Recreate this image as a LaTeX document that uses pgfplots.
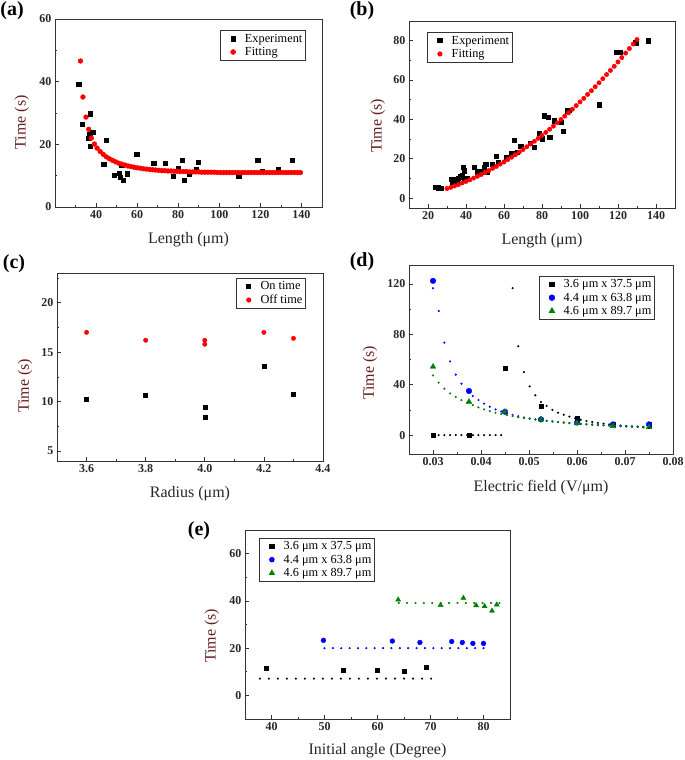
\documentclass[border=0pt]{standalone}
\usepackage{fontspec}
\setmainfont{Liberation Serif}
\usepackage{pgfplots}
\pgfplotsset{compat=1.18}

\definecolor{tlab}{RGB}{105,30,30}
\definecolor{fitred}{RGB}{255,0,0}
\definecolor{dblue}{RGB}{0,0,255}
\definecolor{dgreen}{RGB}{0,128,0}

\pgfplotsset{
  panel/.style={
    scale only axis,
    anchor=south west,
    axis line style={black!80, line width=0.9pt},
    tick style={black!80, line width=0.7pt},
    major tick length=4pt, minor tick length=2.2pt,
    xtick pos=bottom, ytick pos=left,
    tick align=inside,
    ticklabel style={font=\bfseries\fontsize{12}{14}\selectfont, text=black!85},
    /pgf/number format/assume math mode=true,
    xlabel style={font=\fontsize{16}{19}\selectfont, text=black!85,
      at={(axis description cs:0.5,-0.175)}, anchor=center},
    ylabel style={font=\fontsize{16}{19}\selectfont, text=tlab, anchor=center},
    legend style={draw=black!80, line width=0.7pt,
      font=\fontsize{12.3}{14}\selectfont, inner sep=1.5pt,
      nodes={inner sep=1.8pt}},
    legend image code/.code={
      \path[draw=none] (0pt,0pt) -- (21pt,0pt);
      \draw[#1] plot coordinates {(11pt,0pt)};},
    legend cell align=left,
    only marks,
  },
}
\tikzset{pnl/.style={font=\bfseries\fontsize{20}{22}\selectfont}}

\begin{document}
\begin{tikzpicture}
\useasboundingbox (0,0) rectangle (685pt,-760pt);

% ---------------- (a)
\begin{axis}[panel, at={(55pt,-207pt)}, width=267pt, height=188pt,
  xmin=20, xmax=150, ymin=0, ymax=60,
  xtick={40,60,...,140}, minor xtick={30,50,...,130},
  ytick={0,20,40,60}, minor ytick={10,30,50},
  xlabel={Length (μm)}, ylabel={Time (s)},
  ylabel style={at={(axis description cs:-0.124,0.45)}},
  legend style={at={(axis description cs:0.94,0.94)}, anchor=north east}]
\addplot[mark=square*, mark size=2.1pt, black] coordinates {
(31.5,39.1) (33.2,26.5) (37.2,29.8) (36.3,21.9) (36.9,23.1) (38.4,23.8)
(37.2,19.5) (43.7,13.6) (44.9,21.2) (48.9,10.2) (51.4,10.8) (51.7,9.6)
(52.5,13.4) (53.3,8.6) (55.1,10.6) (59.8,16.9) (68.1,14.1) (73.8,13.9)
(77.4,9.8) (79.8,12.4) (82.1,14.9) (82.9,8.6) (85.2,10.4) (88.9,12.1)
(89.8,14.4) (109.4,9.8) (118.7,14.9) (121,11.4) (128.6,12.1) (135.4,15.0)};
\addlegendentry{Experiment}
\addplot[mark=*, mark size=2.4pt, fitred] coordinates {
(32.4,46.6) (33.6,35.1) (35.1,28.7) (36.4,24.8) (37.7,22.0) (39.2,20.1)
(40.5,18.8) (42,17.7) (43.5,16.8) (45,16.0) (46.5,15.4) (48,14.9)
(49.5,14.4) (51,14.0) (52.5,13.7) (54,13.4) (55.5,13.1) (57,12.9)
(58.5,12.7) (60,12.5) (61.5,12.4) (63,12.2) (64.5,12.1) (66,12.0)
(67.5,11.9) (69,11.8) (70.5,11.7) (72,11.6) (73.5,11.6) (75,11.5)
(76.5,11.5) (78,11.4) (79.5,11.4) (81,11.3) (82.5,11.3) (84,11.3)
(85.5,11.2) (87,11.2) (88.5,11.2) (90,11.2) (91.5,11.1) (93,11.1)
(94.5,11.1) (96,11.1) (97.5,11.1) (99,11.0) (100.5,11.0) (102,11.0)
(103.5,11.0) (105,11.0) (106.5,11.0) (108,11.0) (109.5,11.0) (111,11.0)
(112.5,11.0) (114,11.0) (115.5,11.0) (117,11.0) (118.5,11.0) (120,11.0)
(121.5,11.0) (123,11.0) (124.5,11.0) (126,11.0) (127.5,11.0) (129,11.0)
(130.5,11.0) (132,11.0) (133.5,11.0) (135,11.0) (136.5,11.0) (138,11.0)
(139.5,11.0)};
\addlegendentry{Fitting}
\end{axis}
\node[pnl] at (12pt,-11pt) {(a)};

% ---------------- (b)
\begin{axis}[panel, at={(409pt,-208pt)}, width=266pt, height=187pt,
  xmin=10, xmax=150, ymin=-5, ymax=90,
  xtick={20,40,...,140}, minor xtick={30,50,...,130},
  ytick={0,20,...,80}, minor ytick={10,30,50,70},
  xlabel={Length (μm)}, ylabel={Time (s)},
  ylabel style={at={(axis description cs:-0.117,0.44)}},
  legend style={at={(axis description cs:0.068,0.94)}, anchor=north west}]
\addplot[mark=square*, mark size=2.1pt, black] coordinates {
(24,5.5) (25.5,5.3) (27,5.2) (32.3,9.7) (33,8.4) (34,9.7) (35.1,8.4)
(35.8,10.1) (37.2,10.9) (38.1,11.7) (38.4,15.9) (39,13.9) (39.3,9.2)
(40.7,10.1) (44.2,15.9) (46,13.4) (47.8,13.4) (49.5,15.9) (50.4,17.3)
(51.3,13.4) (53.9,17.3) (56,21.3) (57,18.4) (61.3,20.6) (64.1,22.6)
(65.3,29.4) (67.1,23.5) (68.8,26.5) (73.6,28) (75.9,26) (78.5,33)
(80.3,30.2) (81.1,41.9) (83.2,41.1) (84,31) (86.4,39.4) (89.9,38.6)
(91.3,33.9) (93.4,44.4) (94.3,44.8) (110.1,47.5) (119.1,74.1)
(121.2,74.1) (129.3,79) (136,80)};
\addlegendentry{Experiment}
\addplot[mark=*, mark size=2.2pt, fitred] coordinates {
(30,4.9) (32,5.5) (34,6.2) (36,6.9) (38,7.7) (40,8.5) (42,9.3) (44,10.2)
(46,11.1) (48,12.0) (50,13.0) (52,14.0) (54,15.1) (56,16.1) (58,17.3)
(60,18.4) (62,19.6) (64,20.8) (66,22.1) (68,23.4) (70,24.7) (72,26.1)
(74,27.5) (76,28.9) (78,30.4) (80,31.9) (82,33.4) (84,35.0) (86,36.6)
(88,38.3) (90,40.0) (92,41.7) (94,43.4) (96,45.2) (98,47.0) (100,48.9)
(102,50.7) (104,52.7) (106,54.6) (108,56.6) (110,58.6) (112,60.7)
(114,62.8) (116,64.9) (118,67.0) (120,69.2) (122,71.4) (124,73.7)
(126,76.0) (128,78.3) (130,80.6)};
\addlegendentry{Fitting}
\end{axis}
\node[pnl] at (362pt,-11pt) {(b)};

% ---------------- (c)
\begin{axis}[panel, at={(57pt,-461pt)}, width=266pt, height=188pt,
  xmin=3.5, xmax=4.4, ymin=4, ymax=23,
  xtick={3.6,3.8,4.0,4.2,4.4}, minor xtick={3.7,3.9,4.1,4.3},
  ytick={5,10,15,20}, minor ytick={7.5,12.5,17.5,22.5},
  xticklabel style={/pgf/number format/.cd, fixed, fixed zerofill, precision=1},
  xlabel={Radius (μm)}, ylabel={Time (s)},
  ylabel style={at={(axis description cs:-0.12,0.40)}},
  legend style={at={(axis description cs:0.936,0.973)}, anchor=north east}]
\addplot[mark=square*, mark size=2pt, black] coordinates {
(3.6,10.2) (3.8,10.6) (4.0,9.4) (4.0,8.4) (4.2,13.6) (4.3,10.8)};
\addlegendentry{On time}
\addplot[mark=*, mark size=2.2pt, fitred] coordinates {
(3.6,17.0) (3.8,16.2) (4.0,16.2) (4.0,15.8) (4.2,17.0) (4.3,16.4)};
\addlegendentry{Off time}
\end{axis}
\node[pnl] at (14pt,-264pt) {(c)};

% ---------------- (d)
\begin{axis}[panel, at={(409pt,-454pt)}, width=264pt, height=189pt,
  xmin=0.025, xmax=0.08, ymin=-15, ymax=135,
  xtick={0.03,0.04,...,0.08}, minor xtick={0.035,0.045,...,0.075},
  ytick={0,40,80,120}, minor ytick={20,60,100},
  xticklabel style={/pgf/number format/.cd, fixed, fixed zerofill, precision=2},
  scaled x ticks=false,
  xlabel={Electric field (V/μm)}, ylabel={Time (s)},
  ylabel style={at={(axis description cs:-0.148,0.43)}},
  legend style={at={(axis description cs:0.932,0.942)}, anchor=north east}]
\addplot[mark=square*, mark size=2.3pt, black] coordinates {
(0.03,0) (0.0375,0) (0.045,53) (0.0525,23) (0.06,13.2) (0.0675,8.6) (0.075,8.2)};
\addlegendentry{3.6 μm x 37.5 μm}
\addplot[mark=*, mark size=2.8pt, dblue] coordinates {
(0.03,122.4) (0.0375,35) (0.045,18.5) (0.0525,12.5) (0.06,10) (0.0675,8.5) (0.075,8.5)};
\addlegendentry{4.4 μm x 63.8 μm}
\addplot[mark=triangle*, mark size=3.2pt, dgreen] coordinates {
(0.03,54.3) (0.0375,26.5) (0.045,18.5) (0.0525,12.4) (0.06,9.3) (0.0675,7.2) (0.075,6.4)};
\addlegendentry{4.6 μm x 89.7 μm}
\addplot[forget plot, mark=*, mark size=0.85pt, black] coordinates {
(0.0300,0) (0.03118,0) (0.03237,0) (0.03355,0) (0.03474,0) (0.03592,0)
(0.03711,0) (0.03829,0) (0.03947,0) (0.04066,0) (0.04184,0) (0.04303,0)
(0.04421,0)
(0.04658,116.6) (0.04776,70.5) (0.04895,50) (0.05013,38.7) (0.05132,31.6)
(0.05250,26.3) (0.05368,23.2) (0.05487,20.1) (0.05605,17.8) (0.05724,16.1)
(0.05842,14.7) (0.05961,13.3) (0.06079,12.2) (0.06197,11.2) (0.06316,10.4)
(0.06434,9.7) (0.06553,9.1) (0.06671,8.5) (0.06789,8.0) (0.06908,7.6)
(0.07026,7.2) (0.07145,6.8) (0.07263,6.5) (0.07382,6.2) (0.07500,5.9)};
\addplot[forget plot, mark=*, mark size=0.85pt, dblue] coordinates {
(0.0300,116.6) (0.03118,98.5) (0.03237,73.4) (0.03355,58.5) (0.03474,48)
(0.03592,40.8) (0.03711,35.5) (0.03829,31) (0.03947,27.8) (0.04066,25)
(0.04184,22.5) (0.04303,20.4) (0.04421,18.7) (0.04539,17.2) (0.04658,16)
(0.04776,14.9) (0.04895,14.0) (0.05013,13.2) (0.05132,12.5) (0.05250,11.9)
(0.05368,11.3) (0.05487,10.8) (0.05605,10.3) (0.05724,9.9) (0.05842,9.5)
(0.05961,9.1) (0.06079,8.8) (0.06197,8.5) (0.06316,8.2) (0.06434,7.9)
(0.06553,7.7) (0.06671,7.5) (0.06789,7.2) (0.06908,7.0) (0.07026,6.8)
(0.07145,6.7) (0.07263,6.5) (0.07382,6.3) (0.07500,6.2)};
\addplot[forget plot, mark=*, mark size=0.85pt, dgreen] coordinates {
(0.0300,47.4) (0.03118,41.6) (0.03237,36.8) (0.03355,33.1) (0.03474,30.2)
(0.03592,27.8) (0.03711,25.7) (0.03829,23.8) (0.03947,22.0) (0.04066,20.4)
(0.04184,19.1) (0.04303,17.7) (0.04421,16.7) (0.04539,15.8) (0.04658,15.0)
(0.04776,14.2) (0.04895,13.5) (0.05013,12.9) (0.05132,12.3) (0.05250,11.8)
(0.05368,11.3) (0.05487,10.9) (0.05605,10.5) (0.05724,10.1) (0.05842,9.7)
(0.05961,9.4) (0.06079,9.1) (0.06197,8.8) (0.06316,8.5) (0.06434,8.3)
(0.06553,8.0) (0.06671,7.8) (0.06789,7.6) (0.06908,7.4) (0.07026,7.2)
(0.07145,7.0) (0.07263,6.9) (0.07382,6.7) (0.07500,6.6)};
\end{axis}
\node[pnl] at (362pt,-262pt) {(d)};

% ---------------- (e)
\begin{axis}[panel, at={(245pt,-719pt)}, width=265pt, height=189pt,
  xmin=35, xmax=85, ymin=-10, ymax=70,
  xtick={40,50,...,80}, minor xtick={45,55,65,75},
  ytick={0,20,40,60}, minor ytick={10,30,50},
  xlabel={Initial angle (Degree)}, ylabel={Time (s)},
  xlabel style={at={(axis description cs:0.5,-0.165)}},
  ylabel style={at={(axis description cs:-0.125,0.44)}},
  legend style={at={(axis description cs:0.053,0.958)}, anchor=north west}]
\addplot[mark=square*, mark size=2.1pt, black] coordinates {
(39,11.4) (53.5,10.8) (60,10.5) (65,10.4) (69.2,11.8)};
\addlegendentry{3.6 μm x 37.5 μm}
\addplot[mark=*, mark size=2.4pt, dblue] coordinates {
(49.8,23.3) (62.8,23) (68,22.4) (74,22.8) (76,22.4) (78,22) (80,22)};
\addlegendentry{4.4 μm x 63.8 μm}
\addplot[mark=triangle*, mark size=2.9pt, dgreen] coordinates {
(63.9,40.5) (71.9,38.2) (76.2,41.2) (78.6,38.1) (80.2,37.7) (81.6,35.8) (82.5,38.4)};
\addlegendentry{4.6 μm x 89.7 μm}
\addplot[forget plot, mark=*, mark size=0.85pt, black] coordinates {
(37.8,7.1) (39.5,7.1) (41.2,7.1) (42.9,7.1) (44.6,7.1) (46.3,7.1) (48.0,7.1)
(49.7,7.1) (51.4,7.1) (53.1,7.1) (54.8,7.1) (56.5,7.1) (58.2,7.1) (59.9,7.1)
(61.6,7.1) (63.3,7.1) (65.0,7.1) (66.7,7.1) (68.4,7.1) (70.1,7.1)};
\addplot[forget plot, mark=*, mark size=0.85pt, dblue] coordinates {
(50,20) (51.58,20) (53.16,20) (54.74,20) (56.32,20) (57.89,20) (59.47,20)
(61.05,20) (62.63,20) (64.21,20) (65.79,20) (67.37,20) (68.95,20) (70.53,20)
(72.11,20) (73.68,20) (75.26,20) (76.84,20) (78.42,20) (80,20)};
\addplot[forget plot, mark=*, mark size=0.85pt, dgreen] coordinates {
(64,39.1) (65.58,39.1) (67.17,39.1) (68.75,39.1) (70.33,39.1) (71.92,39.1)
(73.5,39.1) (75.08,39.1) (76.67,39.1) (78.25,39.1) (79.83,39.1) (81.42,39.1)
(83,39.1)};
\end{axis}
\node[pnl] at (199pt,-531pt) {(e)};

\end{tikzpicture}
\end{document}
